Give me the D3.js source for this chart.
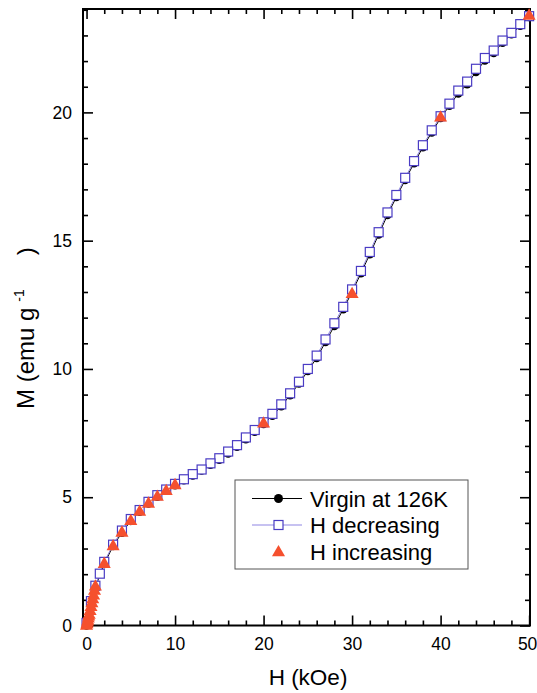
<!DOCTYPE html>
<html><head><meta charset="utf-8">
<script src="https://cdn.jsdelivr.net/npm/d3@7"></script>
<style>
body{margin:0;background:#fff;}
svg{display:block;font-family:"Liberation Sans",Arial,sans-serif;}
</style></head>
<body><svg id="c" width="537" height="693"></svg>
<script>
// ---- data ----
const decH = [50,49,48,47,46,45,44,43,42,41,40,39,38,37,36,35,34,33,32,31,30,29,28,27,26,25,24,23,22,21,20,19,18,17,16,15,14,13,12,11,10,9,8,7,6,5,4,3,2,1.5,1,0.5,0];
const decM = [23.75,23.44,23.1,22.8,22.41,22.12,21.7,21.2,20.85,20.34,19.85,19.3,18.72,18.1,17.45,16.78,16.1,15.33,14.56,13.82,13.1,12.42,11.78,11.15,10.52,10.0,9.5,9.05,8.62,8.25,7.92,7.62,7.33,7.03,6.78,6.52,6.32,6.08,5.9,5.7,5.52,5.3,5.08,4.82,4.5,4.15,3.7,3.15,2.48,2.02,1.55,0.95,0.1];

const virH = [0,0.5,1,2,3,4,5,6,7,8,9,10,11,12,13,14,15,16,17,18,19,20,21,22,23,24,25,26,27,28,29,30,31,32,33,34,35,36,37,38,39,40,41,42,43,44,45,46,47,48,49,50];
const virM = [0,0.75,1.5,2.4,3.1,3.62,4.08,4.44,4.76,5.02,5.25,5.47,5.66,5.85,6.04,6.27,6.46,6.71,6.97,7.26,7.55,7.86,8.18,8.55,8.98,9.43,9.92,10.43,11.05,11.68,12.33,13.0,13.73,14.47,15.24,16.0,16.7,17.37,18.02,18.64,19.22,19.78,20.26,20.74,21.1,21.58,22.02,22.32,22.72,23.05,23.38,23.72];

const incH = [0,0.05,0.1,0.15,0.2,0.25,0.3,0.4,0.5,0.6,0.7,0.8,0.9,1,2,3,4,5,6,7,8,9,10,20,30,40,50];
const incM = [0.02,0.08,0.15,0.22,0.3,0.38,0.45,0.6,0.75,0.9,1.05,1.2,1.38,1.55,2.43,3.12,3.65,4.1,4.46,4.78,5.05,5.27,5.5,7.9,12.95,19.83,23.8];

const xMajor = [0,10,20,30,40,50];
const yMajor = [0,5,10,15,20];
const legendLabels = ["Virgin at 126K","H decreasing","H increasing"];

// ---- layout ----
const svg = d3.select("#c");
const L=83, R=530, T=9, B=625.5;
const x = d3.scaleLinear().domain([-0.4,50.1]).range([L,R]);
const y = d3.scaleLinear().domain([0,24.03]).range([B,T]);

const colVir="#000", colDecLine="#8f86e3", colDecSq="#4a3cc4", colInc="#f5502e";

const xMinor = d3.range(0,51,2).filter(v=>v%10!==0);
const yMinor = d3.range(0,25,1).filter(v=>v%5!==0);

function styleAxis(g){
  g.select(".domain").remove();
  g.selectAll("line").attr("stroke","#000").attr("stroke-width",1.6);
  g.selectAll("text").attr("font-size",17.5).attr("fill","#000").attr("font-family","'Liberation Sans',Arial,sans-serif");
}
const xb = svg.append("g").attr("transform",`translate(0,${B})`)
  .call(d3.axisBottom(x).tickValues(xMajor).tickSize(-10).tickPadding(12).tickFormat(d3.format("d"))).call(styleAxis);
xb.selectAll("text").filter(d=>d===50).attr("dx",-2);
svg.append("g").attr("transform",`translate(0,${B})`)
  .call(d3.axisBottom(x).tickValues(xMinor).tickSize(-5).tickFormat("")).call(styleAxis);
svg.append("g").attr("transform",`translate(0,${T})`)
  .call(d3.axisTop(x).tickValues(xMajor).tickSize(-10).tickFormat("")).call(styleAxis);
svg.append("g").attr("transform",`translate(0,${T})`)
  .call(d3.axisTop(x).tickValues(xMinor).tickSize(-5).tickFormat("")).call(styleAxis);
svg.append("g").attr("transform",`translate(${L},0)`)
  .call(d3.axisLeft(y).tickValues(yMajor).tickSize(-10).tickPadding(11).tickFormat(d3.format("d"))).call(styleAxis);
svg.append("g").attr("transform",`translate(${L},0)`)
  .call(d3.axisLeft(y).tickValues(yMinor).tickSize(-5).tickFormat("")).call(styleAxis);
svg.append("g").attr("transform",`translate(${R},0)`)
  .call(d3.axisRight(y).tickValues(yMajor).tickSize(-10).tickFormat("")).call(styleAxis);
svg.append("g").attr("transform",`translate(${R},0)`)
  .call(d3.axisRight(y).tickValues(yMinor).tickSize(-5).tickFormat("")).call(styleAxis);

svg.append("rect").attr("x",L).attr("y",T).attr("width",R-L).attr("height",B-T)
  .attr("fill","none").attr("stroke","#000").attr("stroke-width",2);

// ---- series ----
const vir = virH.map((h,i)=>({h,m:virM[i]}));
const dec = decH.map((h,i)=>({h,m:decM[i]}));
const inc = incH.map((h,i)=>({h,m:incM[i]}));
const line = d3.line().x(d=>x(d.h)).y(d=>y(d.m));

const plot = svg.append("g");
plot.append("path").datum(vir).attr("d",line).attr("fill","none").attr("stroke",colVir).attr("stroke-width",1);
plot.selectAll(".vc").data(vir).join("circle").attr("cx",d=>x(d.h)).attr("cy",d=>y(d.m)).attr("r",4.3).attr("fill",colVir);
plot.append("path").datum(dec).attr("d",line).attr("fill","none").attr("stroke",colDecLine).attr("stroke-width",1);
const sq=9;
plot.selectAll(".ds").data(dec).join("rect").attr("x",d=>x(d.h)-sq/2).attr("y",d=>y(d.m)-sq/2)
  .attr("width",sq).attr("height",sq).attr("fill","#fff").attr("stroke",colDecSq).attr("stroke-width",1.2);
const tri = d3.symbol().type(d3.symbolTriangle).size(74);
plot.selectAll(".it").data(inc).join("path").attr("d",tri)
  .attr("transform",d=>`translate(${x(d.h)},${y(d.m)+1})`).attr("fill",colInc);

// ---- legend ----
const lg = svg.append("g");
lg.append("rect").attr("x",235).attr("y",480).attr("width",233).attr("height",89)
  .attr("fill","#fff").attr("stroke","#555").attr("stroke-width",1);
const rows=[498.5,525,551.5];
const symX=278.5;
lg.append("line").attr("x1",252).attr("x2",302).attr("y1",rows[0]).attr("y2",rows[0]).attr("stroke",colVir).attr("stroke-width",1);
lg.append("circle").attr("cx",symX).attr("cy",rows[0]).attr("r",4.5).attr("fill",colVir);
lg.append("line").attr("x1",252).attr("x2",302).attr("y1",rows[1]).attr("y2",rows[1]).attr("stroke",colDecLine).attr("stroke-width",1.2);
lg.append("rect").attr("x",symX-4.5).attr("y",rows[1]-4.5).attr("width",9).attr("height",9).attr("fill","#fff").attr("stroke",colDecSq).attr("stroke-width",1.2);
lg.append("path").attr("d",tri).attr("transform",`translate(${symX},${rows[2]+1})`).attr("fill",colInc);
lg.selectAll(".lt").data(legendLabels).join("text").attr("x",310).attr("y",(d,i)=>rows[i]+8)
  .attr("font-size",22).attr("fill","#000").text(d=>d);

// ---- titles ----
svg.append("text").attr("x",308).attr("y",685).attr("text-anchor","middle").attr("font-size",22.5).text("H (kOe)");
const yt = svg.append("text").attr("transform","translate(34,409) rotate(-90)").attr("text-anchor","start").attr("font-size",24);
yt.append("tspan").text("M (emu g");
yt.append("tspan").attr("dx",6).attr("dy",-10).attr("font-size",14).text("-1");
yt.append("tspan").attr("dx",34).attr("dy",10).text(")");
</script></body></html>
